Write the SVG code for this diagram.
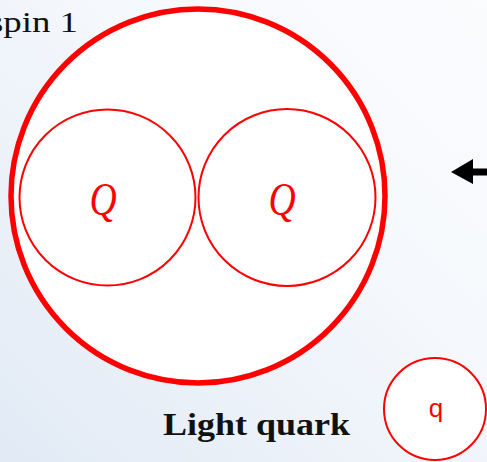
<svg xmlns="http://www.w3.org/2000/svg" width="487" height="462" viewBox="0 0 487 462">
  <defs>
    <linearGradient id="bg" x1="0" y1="1" x2="1" y2="0">
      <stop offset="0" stop-color="#e1eaf5"/>
      <stop offset="0.6" stop-color="#f5f8fc"/>
      <stop offset="1" stop-color="#fbfcfe"/>
    </linearGradient>
    <style>
      .big { fill: #ffffff; stroke: #ff0000; stroke-width: 5.5; }
      .inner { fill: #ffffff; stroke: #ff0000; stroke-width: 2; }
      .Q { font-family: "Liberation Serif", serif; font-style: italic; font-size: 47px; fill: #ff0000; text-anchor: middle; }
      .lbl { font-family: "Liberation Serif", serif; fill: #111111; }
      .q { font-family: "Liberation Sans", sans-serif; font-size: 26px; fill: #ff0000; text-anchor: middle; }
    </style>
  </defs>
  <rect x="0" y="0" width="487" height="462" fill="url(#bg)"/>

  <g id="label-spin">
    <text class="lbl" x="-11" y="32" font-size="30" textLength="89" lengthAdjust="spacingAndGlyphs">spin 1</text>
  </g>

  <g id="meson">
    <circle class="big" cx="198" cy="196" r="187"/>
  </g>

  <g id="heavy-quark-left">
    <circle class="inner" cx="107.5" cy="197.5" r="88"/>
    <text class="Q" x="103" y="215" transform="translate(103 0) scale(0.8 1) translate(-103 0)">Q</text>
  </g>

  <g id="heavy-quark-right">
    <circle class="inner" cx="287" cy="197.5" r="88.5"/>
    <text class="Q" x="282" y="215" transform="translate(282 0) scale(0.8 1) translate(-282 0)">Q</text>
  </g>

  <g id="connectors">
    <polygon points="451,172 473,159 473,168.5 487,168.5 487,175.5 473,175.5 473,184" fill="#000000"/>
  </g>

  <g id="label-light">
    <text class="lbl" x="163" y="435" font-size="31" font-weight="bold" textLength="187" lengthAdjust="spacingAndGlyphs">Light quark</text>
  </g>

  <g id="light-quark">
    <circle class="inner" cx="435" cy="409" r="51"/>
    <text class="q" x="436" y="417">q</text>
  </g>
</svg>
